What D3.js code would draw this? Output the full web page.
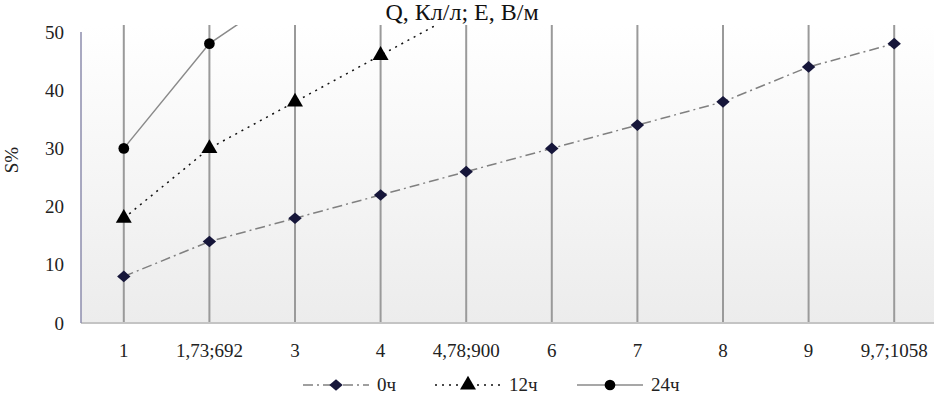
<!DOCTYPE html>
<html>
<head>
<meta charset="utf-8">
<script src="https://cdn.jsdelivr.net/npm/d3@7"></script>
<style>
  body { margin: 0; background: #fff; }
  svg { display: block; font-family: "Liberation Serif", "Times New Roman", serif; }
</style>
</head>
<body>
<svg width="934" height="394"></svg>
<script>
// categories on the x axis
var categories = ["1", "1,73;692", "3", "4", "4,78;900", "6", "7", "8", "9", "9,7;1058"];
var yTicks = [0, 10, 20, 30, 40, 50];

// series values (S%)
var s0 = [8, 14, 18, 22, 26, 30, 34, 38, 44, 48];
var s12 = [18, 30, 38, 46, 54];
var s24 = [30, 48, 58];

var seriesNames = ["0ч", "12ч", "24ч"];

var svg = d3.select("svg");
var plotLeft = 81, plotRight = 937, plotTop = 25, plotBottom = 323;

var x = d3.scalePoint().domain(categories).range([plotLeft, plotRight]).padding(0.5);
var y = d3.scaleLinear().domain([0, 50]).range([plotBottom, 32]);

var defs = svg.append("defs");
var grad = defs.append("linearGradient").attr("id", "bg")
  .attr("x1", 0).attr("y1", 0).attr("x2", 0).attr("y2", 1);
grad.append("stop").attr("offset", "0%").attr("stop-color", "#ffffff");
grad.append("stop").attr("offset", "100%").attr("stop-color", "#ececec");
defs.append("clipPath").attr("id", "clip")
  .append("rect").attr("x", plotLeft).attr("y", plotTop)
  .attr("width", plotRight - plotLeft).attr("height", plotBottom - plotTop);

svg.append("rect")
  .attr("x", plotLeft).attr("y", plotTop)
  .attr("width", plotRight - plotLeft).attr("height", plotBottom - plotTop)
  .attr("fill", "url(#bg)");

// vertical gridlines
svg.append("g").selectAll("line")
  .data(categories)
  .enter().append("line")
  .attr("x1", function(d) { return x(d); })
  .attr("x2", function(d) { return x(d); })
  .attr("y1", plotTop).attr("y2", plotBottom)
  .attr("stroke", "#9a9a9a")
  .attr("stroke-width", 2);

// axes
svg.append("line")
  .attr("x1", plotLeft).attr("x2", plotRight).attr("y1", plotBottom).attr("y2", plotBottom)
  .attr("stroke", "#c4c4c4").attr("stroke-width", 2);
svg.append("line")
  .attr("x1", plotLeft).attr("x2", plotLeft).attr("y1", 32).attr("y2", plotBottom)
  .attr("stroke", "#8c8cac").attr("stroke-width", 1.5);

svg.append("g").selectAll("text")
  .data(yTicks)
  .enter().append("text")
  .attr("x", 64)
  .attr("y", function(d) { return y(d); })
  .attr("dy", "0.35em")
  .attr("text-anchor", "end")
  .style("font-size", "19px")
  .attr("fill", "#222")
  .text(function(d) { return d; });

svg.append("g").selectAll("text")
  .data(categories)
  .enter().append("text")
  .attr("x", function(d) { return x(d); })
  .attr("y", 357)
  .attr("text-anchor", "middle")
  .style("font-size", "19px")
  .attr("fill", "#222")
  .text(function(d) { return d; });

svg.append("text")
  .attr("x", 462).attr("y", 20)
  .attr("text-anchor", "middle")
  .style("font-size", "24px")
  .attr("fill", "#111")
  .text("Q, Кл/л; Е, В/м");

svg.append("text")
  .attr("transform", "translate(18,160) rotate(-90)")
  .attr("text-anchor", "middle")
  .style("font-size", "19px")
  .attr("fill", "#222")
  .text("S%");

// square diamond (about equal width and height)
var squareDiamond = {
  draw: function(context, size) {
    var r = Math.sqrt(size / 2);
    context.moveTo(0, -r);
    context.lineTo(r * 1.15, 0);
    context.lineTo(0, r);
    context.lineTo(-r * 1.15, 0);
    context.closePath();
  }
};

var styles = [
  { data: s0, color: "#808080", dash: "10,4,2,4", marker: squareDiamond, size: 68, fill: "#16163a" },
  { data: s12, color: "#111", dash: "2,5", marker: d3.symbolTriangle, size: 110, fill: "#000" },
  { data: s24, color: "#8a8a8a", dash: null, marker: d3.symbolCircle, size: 90, fill: "#000" }
];

var line = d3.line()
  .x(function(d, i) { return x(categories[i]); })
  .y(function(d) { return y(d); });

var plot = svg.append("g").attr("clip-path", "url(#clip)");

styles.forEach(function(s) {
  plot.append("path")
    .attr("d", line(s.data))
    .attr("fill", "none")
    .attr("stroke", s.color)
    .attr("stroke-width", 1.5)
    .attr("stroke-dasharray", s.dash);
});

styles.forEach(function(s) {
  plot.selectAll(null)
    .data(s.data)
    .enter().append("path")
    .attr("transform", function(d, i) { return "translate(" + x(categories[i]) + "," + y(d) + ")"; })
    .attr("d", d3.symbol().type(s.marker).size(s.size))
    .attr("fill", s.fill);
});

// legend
var legendX = [303, 435, 577];
var legend = svg.append("g").selectAll("g")
  .data(styles)
  .enter().append("g")
  .attr("transform", function(d, i) { return "translate(" + legendX[i] + ",385)"; });
legend.append("line")
  .attr("x1", 0).attr("x2", 66).attr("y1", 0).attr("y2", 0)
  .attr("stroke", function(d) { return d.color; })
  .attr("stroke-width", 1.5)
  .attr("stroke-dasharray", function(d) { return d.dash; });
legend.append("path")
  .attr("transform", "translate(33,0)")
  .attr("d", function(d) { return d3.symbol().type(d.marker).size(d.size)(); })
  .attr("fill", function(d) { return d.fill; });
legend.append("text")
  .attr("x", 74).attr("y", 6)
  .style("font-size", "19px")
  .attr("fill", "#222")
  .text(function(d, i) { return seriesNames[i]; });
</script>
</body>
</html>
